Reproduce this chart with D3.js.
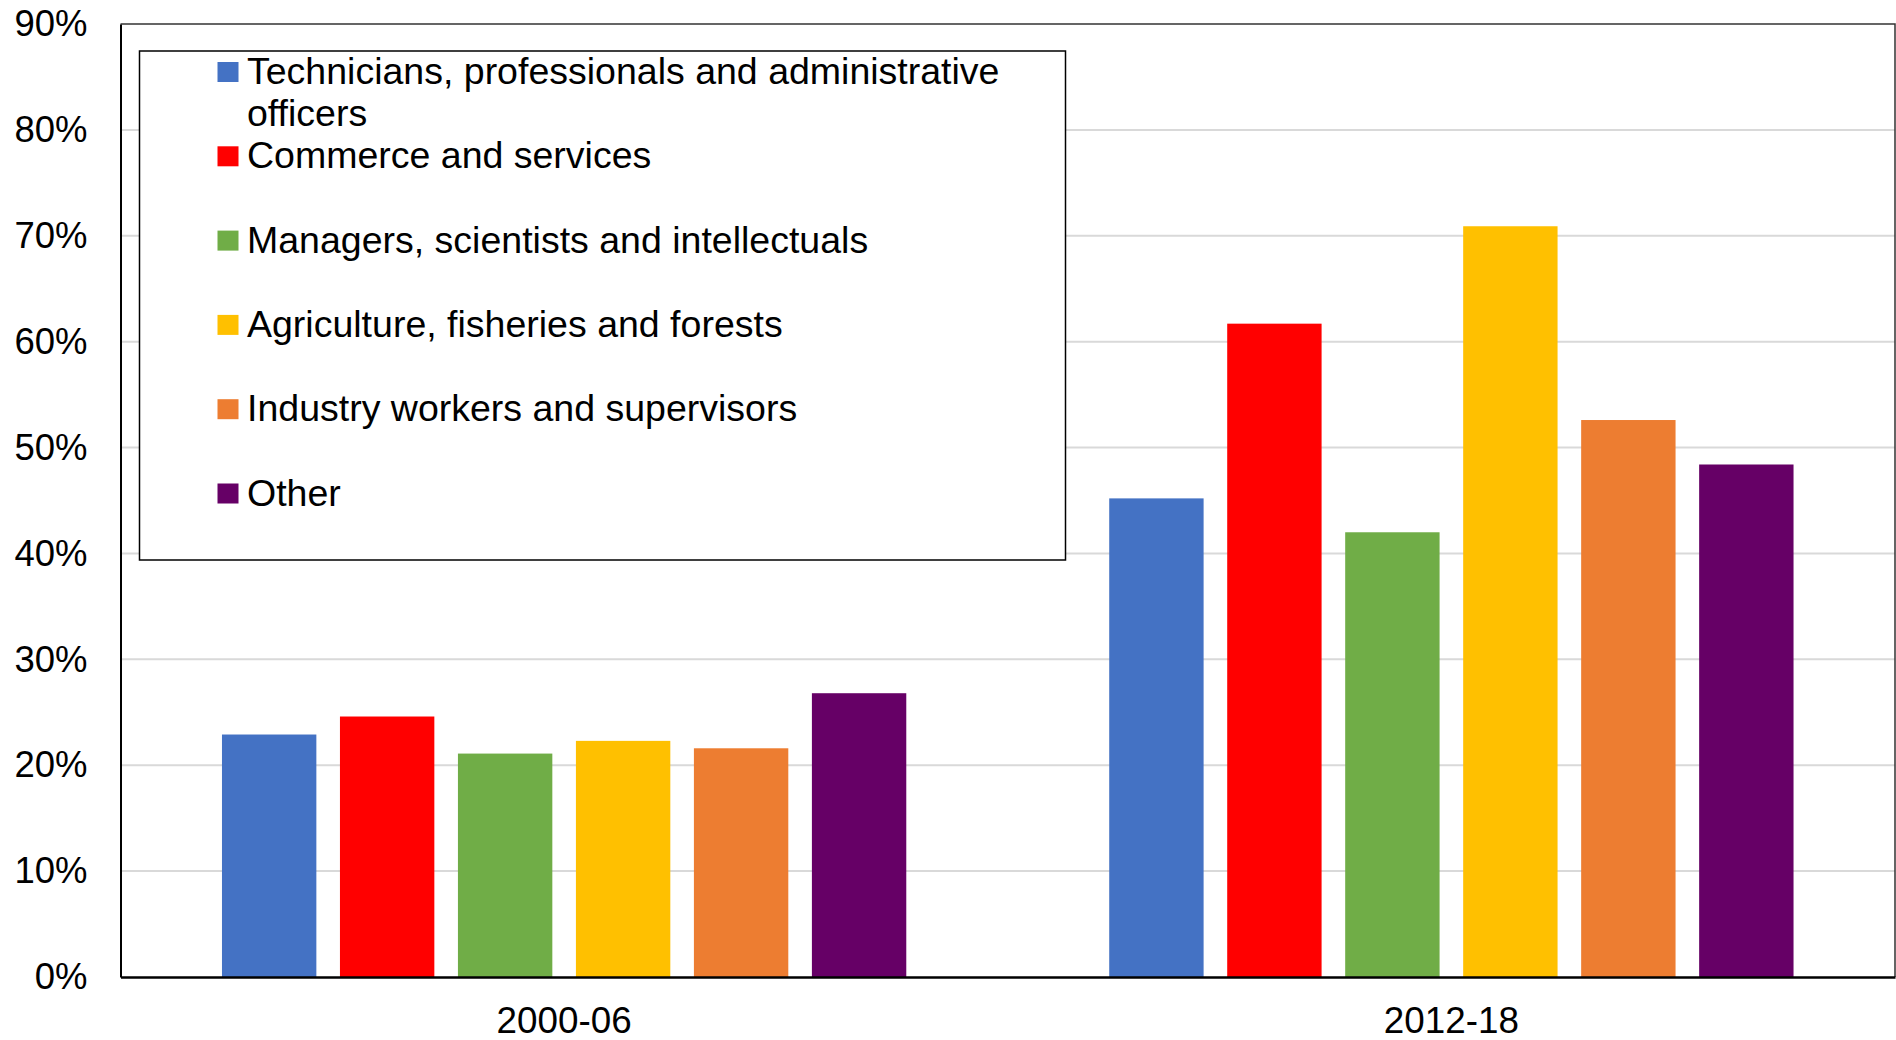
<!DOCTYPE html>
<html>
<head>
<meta charset="utf-8">
<script src="https://cdn.jsdelivr.net/npm/d3@7/dist/d3.min.js"></script>
<style>
  html, body { margin: 0; padding: 0; background: #fff; }
  svg { display: block; }
  text { font-family: "Liberation Sans", Arial, sans-serif; fill: #000; }
</style>
</head>
<body>
<svg id="chart" width="1896" height="1040"></svg>
<script>
// ---- Data ----
const periods = ["2000-06", "2012-18"];
const categories = [
  "Technicians, professionals and administrative officers",
  "Commerce and services",
  "Managers, scientists and intellectuals",
  "Agriculture, fisheries and forests",
  "Industry workers and supervisors",
  "Other"
];
const colors = ["#4472C4", "#FF0000", "#70AD47", "#FFC000", "#ED7D31", "#660066"];
// values in percent, per category: [2000-06, 2012-18]
const technicians = [22.9, 45.2];
const commerce    = [24.6, 61.7];
const managers    = [21.1, 42.0];
const agriculture = [22.3, 70.9];
const industry    = [21.6, 52.6];
const other       = [26.8, 48.4];
const seriesValues = [technicians, commerce, managers, agriculture, industry, other];
const yTicks = [0, 10, 20, 30, 40, 50, 60, 70, 80, 90];

// ---- Layout ----
const plot = { left: 120.5, top: 24, right: 1895, bottom: 977 };
const svg = d3.select("#chart");

const y = d3.scaleLinear().domain([0, 90]).range([plot.bottom, plot.top]);
const x0 = d3.scaleBand().domain(periods).range([plot.left, plot.right]).padding(0);
const x1 = d3.scaleBand().domain(d3.range(categories.length))
  .range([0, x0.bandwidth()]).paddingInner(0.2).paddingOuter(0.86);

// gridlines
svg.append("g").selectAll("line").data(yTicks.filter(t => t > 0 && t < 90)).join("line")
  .attr("x1", plot.left).attr("x2", plot.right)
  .attr("y1", d => y(d)).attr("y2", d => y(d))
  .attr("stroke", "#d9d9d9").attr("stroke-width", 2);

// bars
const data = [];
periods.forEach((p, pi) => {
  categories.forEach((c, ci) => {
    data.push({ period: p, ci: ci, value: seriesValues[ci][pi] });
  });
});
svg.append("g").selectAll("rect").data(data).join("rect")
  .attr("x", d => x0(d.period) + x1(d.ci))
  .attr("width", x1.bandwidth())
  .attr("y", d => y(d.value))
  .attr("height", d => y(0) - y(d.value))
  .attr("fill", d => colors[d.ci]);

// plot border (top & right)
svg.append("path")
  .attr("d", `M${plot.left},${plot.top}H${plot.right}V${plot.bottom}`)
  .attr("fill", "none").attr("stroke", "#333").attr("stroke-width", 1.5);

// y axis
const yAxis = svg.append("g").attr("transform", `translate(${plot.left},0)`)
  .call(d3.axisLeft(y).tickValues(yTicks).tickSize(0).tickPadding(33).tickFormat(d => d + "%"));
yAxis.select(".domain").attr("stroke", "#000").attr("stroke-width", 2);
yAxis.selectAll("text").attr("font-size", 36.5)
  .style("font-family", '"Liberation Sans", Arial, sans-serif').attr("fill", "#000");

// x axis
const xAxis = svg.append("g").attr("transform", `translate(0,${plot.bottom})`)
  .call(d3.axisBottom(x0).tickSize(0).tickPadding(30));
xAxis.select(".domain").attr("stroke", "#000").attr("stroke-width", 2.5);
xAxis.selectAll("text").attr("font-size", 36.8)
  .style("font-family", '"Liberation Sans", Arial, sans-serif').attr("fill", "#000");

// legend
const legend = svg.append("g");
legend.append("rect")
  .attr("x", 139.5).attr("y", 51).attr("width", 926).attr("height", 509)
  .attr("fill", "#fff").attr("stroke", "#000").attr("stroke-width", 1.5);

const entryStep = 84.3, lineStep = 42, firstBaseline = 84, maxTextW = 820, fs = 37.5;
categories.forEach((c, i) => {
  const base = firstBaseline + i * entryStep;
  legend.append("rect")
    .attr("x", 217.5).attr("y", base - 22).attr("width", 21).attr("height", 20)
    .attr("fill", colors[i]);
  const t = legend.append("text").attr("x", 247).attr("y", base).attr("font-size", fs);
  // simple word wrap
  const words = c.split(" ");
  let line = [], lineNo = 0;
  let tspan = t.append("tspan").attr("x", 247).attr("y", base);
  words.forEach(w => {
    line.push(w);
    tspan.text(line.join(" "));
    if (tspan.node().getComputedTextLength() > maxTextW && line.length > 1) {
      line.pop();
      tspan.text(line.join(" "));
      line = [w];
      lineNo++;
      tspan = t.append("tspan").attr("x", 247).attr("y", base + lineNo * lineStep).text(w);
    }
  });
});
</script>
</body>
</html>
